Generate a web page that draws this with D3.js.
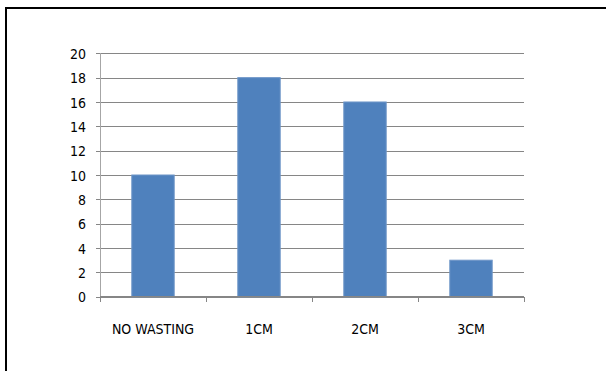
<!DOCTYPE html>
<html>
<head>
<meta charset="utf-8">
<script src="https://cdn.jsdelivr.net/npm/d3@7"></script>
<style>
  html, body { margin: 0; padding: 0; background: #fff; }
  svg { display: block; }
  text { font-family: "DejaVu Sans Condensed", "DejaVu Sans", sans-serif; font-size: 14px; fill: #000; }
</style>
</head>
<body>
<svg id="chart" width="606" height="371"></svg>
<script>
// Children by wasting grade
const categories = ["NO WASTING", "1CM", "2CM", "3CM"];
const counts = [10, 18, 16, 3];
const yTicks = [0, 2, 4, 6, 8, 10, 12, 14, 16, 18, 20];

const svg = d3.select("#chart");
const W = 606, H = 371;
const plot = { left: 100, right: 524, top: 53.3, bottom: 296.7 };

// Outer frame (runs off the right and bottom edges)
svg.append("rect")
  .attr("x", 6).attr("y", 8)
  .attr("width", W + 10).attr("height", H + 10)
  .attr("fill", "none").attr("stroke", "#000").attr("stroke-width", 2);

const x = d3.scaleBand()
  .domain(categories)
  .range([plot.left, plot.right])
  .paddingInner(0.6)
  .paddingOuter(0.3);

const y = d3.scaleLinear().domain([0, 20]).range([plot.bottom, plot.top]);

// Horizontal gridlines with left tick stubs
const yAxis = d3.axisLeft(y)
  .tickValues(yTicks)
  .tickSize(-(plot.right - plot.left))
  .tickPadding(10)
  .tickFormat(d3.format("d"));

const gy = svg.append("g")
  .attr("transform", `translate(${plot.left},0)`)
  .call(yAxis);
gy.select(".domain").remove();
gy.selectAll(".tick line")
  .attr("x1", -4)
  .attr("stroke", "#868686")
  .attr("shape-rendering", "crispEdges");
gy.selectAll(".tick text")
  .attr("x", -14)
  .attr("dy", "0.36em")
  .style("font-size", "14px")
  .style("font-family", "\"DejaVu Sans Condensed\", sans-serif");

// Vertical value axis line
svg.append("line")
  .attr("x1", plot.left).attr("x2", plot.left)
  .attr("y1", y(20)).attr("y2", y(0))
  .attr("stroke", "#a6a6a6")
  .attr("shape-rendering", "crispEdges");

// Bars
svg.append("g").selectAll("rect")
  .data(categories.map((c, i) => ({ c, v: counts[i] })))
  .join("rect")
  .attr("x", d => x(d.c))
  .attr("y", d => y(d.v))
  .attr("width", x.bandwidth())
  .attr("height", d => y(0) - y(d.v))
  .attr("fill", "#4f81bd")
  .attr("stroke", "#6f96c8")
  .attr("stroke-width", 1);

// Category axis: baseline, tick marks between categories, labels
const step = x.step();
const bounds = d3.range(categories.length + 1).map(i => plot.left + i * step);
svg.append("line")
  .attr("x1", plot.left).attr("x2", plot.right)
  .attr("y1", y(0)).attr("y2", y(0))
  .attr("stroke", "#868686")
  .attr("shape-rendering", "crispEdges");
svg.append("g").selectAll("line")
  .data(bounds)
  .join("line")
  .attr("x1", d => d).attr("x2", d => d)
  .attr("y1", y(0)).attr("y2", y(0) + 5)
  .attr("stroke", "#868686")
  .attr("shape-rendering", "crispEdges");
svg.append("g").selectAll("text")
  .data(categories)
  .join("text")
  .attr("x", d => x(d) + x.bandwidth() / 2)
  .attr("y", y(0) + 37)
  .attr("text-anchor", "middle")
  .text(d => d);
</script>
</body>
</html>
